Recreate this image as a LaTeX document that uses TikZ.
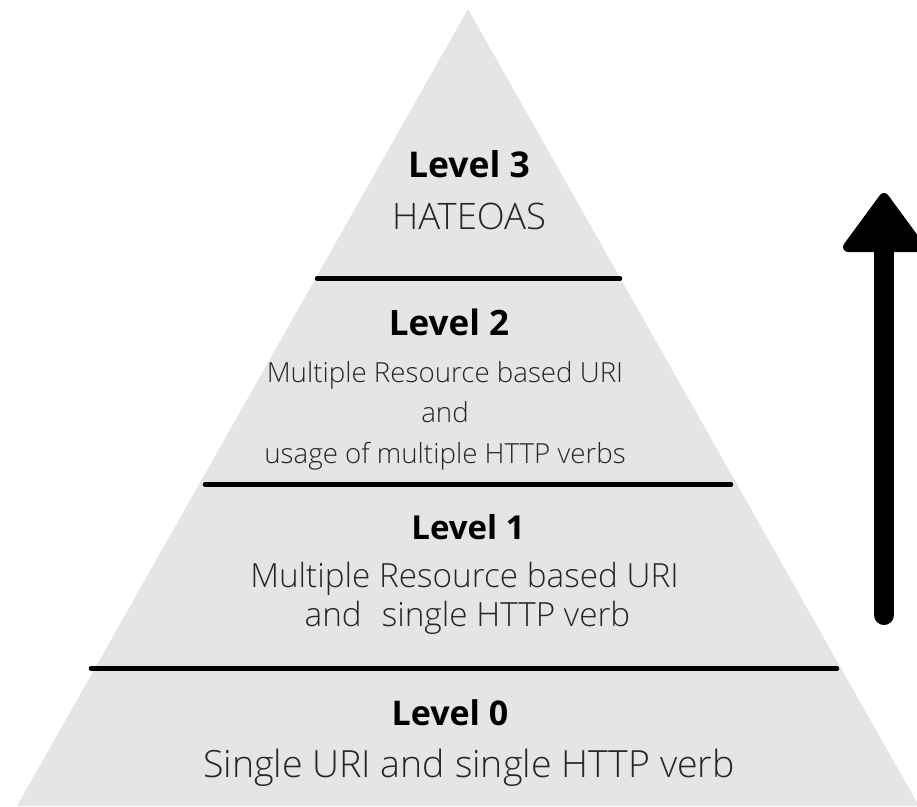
\documentclass[tikz,border=0pt]{standalone}
\usepackage{fontspec}
\setmainfont{Open Sans}
\newfontfamily\lightfont{Open Sans Light}
\definecolor{pyr}{HTML}{E5E5E5}
\definecolor{bodytxt}{HTML}{262626}
\begin{document}
\begin{tikzpicture}[x=1pt,y=-1pt,
  sep/.style={line width=4.5pt, line cap=round},
  ttl/.style={anchor=base, inner sep=0pt, font=\bfseries\fontsize{#1}{#1}\selectfont},
  txt/.style={anchor=base, inner sep=0pt, text=bodytxt, font=\lightfont\fontsize{#1}{#1}\selectfont}
]
\useasboundingbox (0,0) rectangle (917,806);
\clip (0,0) rectangle (917,806);
% pyramid
\coordinate (apex) at (468,9);
\coordinate (bl) at (17,806);
\coordinate (br) at (919,806);
\fill[pyr] (apex) -- (bl) -- (br) -- cycle;
% separators
\coordinate (s1l) at (91,668.5);  \coordinate (s1r) at (837,668.5);
\coordinate (s2l) at (205,484.5); \coordinate (s2r) at (731,484.5);
\coordinate (s3l) at (317,278.5); \coordinate (s3r) at (620,278.5);
\draw[sep] (s1l) -- (s1r);
\draw[sep] (s2l) -- (s2r);
\draw[sep] (s3l) -- (s3r);
% texts
\node[ttl=35.5] (l3) at (469,177) {Level 3};
\node[txt=36.5] (l3a) at (469,229) {HATEOAS};
\node[ttl=35] (l2) at (449,335) {Level 2};
\node[txt=27.7] (l2a) at (445,382) {Multiple Resource based URI};
\node[txt=27.7] (l2b) at (445,422) {and};
\node[txt=27.7] (l2c) at (445,463) {usage of multiple HTTP verbs};
\node[ttl=33] (l1) at (468,539) {Level 1};
\node[txt=33.3] (l1a) at (464.5,587) {Multiple Resource based URI};
\node[txt=33.3] (l1b) at (467.5,626) {and\hspace{0.6em}single HTTP verb};
\node[ttl=34] (l0) at (450,725) {Level 0};
\node[txt=37.5] (l0a) at (469,777) {Single URI and single HTTP verb};
% arrow
\coordinate (abot) at (884,615);
\coordinate (atop) at (884,240);
\coordinate (hl) at (848,247);
\coordinate (ht) at (884,198);
\coordinate (hr) at (920,247);
\draw[line width=20pt, line cap=round] (abot) -- (atop);
\filldraw[line width=10pt, line join=round] (hl) -- (ht) -- (hr) -- cycle;
\end{tikzpicture}
\end{document}
